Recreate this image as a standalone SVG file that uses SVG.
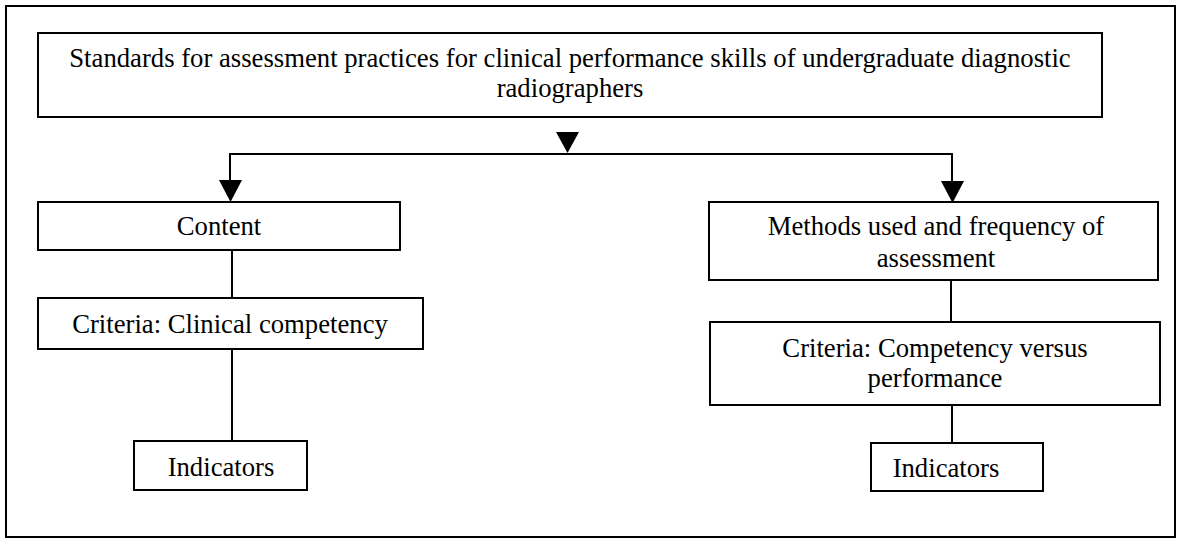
<svg xmlns="http://www.w3.org/2000/svg" width="1181" height="539" viewBox="0 0 1181 539" font-family="'Liberation Serif', 'DejaVu Serif', serif">
  <style>
    .box { fill: #fff; stroke: #000; stroke-width: 2; }
    .frame { fill: none; stroke: #000; stroke-width: 2; }
    .lbl { font-family: 'Liberation Serif', 'DejaVu Serif', serif; font-size: 26.7px; fill: #000; text-anchor: middle; }
    .wire { fill: none; stroke: #000; stroke-width: 2; }
    .tip { fill: #000; stroke: none; }
  </style>

  <rect class="frame" x="6" y="6" width="1169" height="531"/>

  <g id="connectors">
    <!-- drop arrow under the title box -->
    <polygon class="tip" points="556,132 579,132 567.5,153"/>
    <path class="wire" d="M230,184 V154 H952 V186"/>
    <polygon class="tip" points="219,180 242,180 230.5,202"/>
    <polygon class="tip" points="941,181 964,181 952.5,203"/>
    <path class="wire" d="M232,250 V298"/>
    <path class="wire" d="M232,349 V441"/>
    <path class="wire" d="M951,280 V322"/>
    <path class="wire" d="M952,405 V443"/>
  </g>

  <g id="title">
    <rect class="box" x="38" y="33" width="1064" height="84"/>
    <text class="lbl" x="570" y="67">Standards for assessment practices for clinical performance skills of undergraduate diagnostic</text>
    <text class="lbl" x="570" y="97">radiographers</text>
  </g>

  <g id="content">
    <rect class="box" x="38" y="202" width="362" height="48"/>
    <text class="lbl" x="219" y="235">Content</text>
  </g>

  <g id="criteria-clinical">
    <rect class="box" x="38" y="298" width="385" height="51"/>
    <text class="lbl" x="230" y="333">Criteria: Clinical competency</text>
  </g>

  <g id="indicators-left">
    <rect class="box" x="134" y="441" width="173" height="49"/>
    <text class="lbl" x="221" y="476">Indicators</text>
  </g>

  <g id="methods">
    <rect class="box" x="709" y="202" width="449" height="78"/>
    <text class="lbl" x="936" y="235">Methods used and frequency of</text>
    <text class="lbl" x="936" y="267">assessment</text>
  </g>

  <g id="criteria-competency">
    <rect class="box" x="710" y="322" width="450" height="83"/>
    <text class="lbl" x="935" y="357">Criteria: Competency versus</text>
    <text class="lbl" x="935" y="387">performance</text>
  </g>

  <g id="indicators-right">
    <rect class="box" x="871" y="443" width="172" height="48"/>
    <text class="lbl" x="946" y="477">Indicators</text>
  </g>
</svg>
